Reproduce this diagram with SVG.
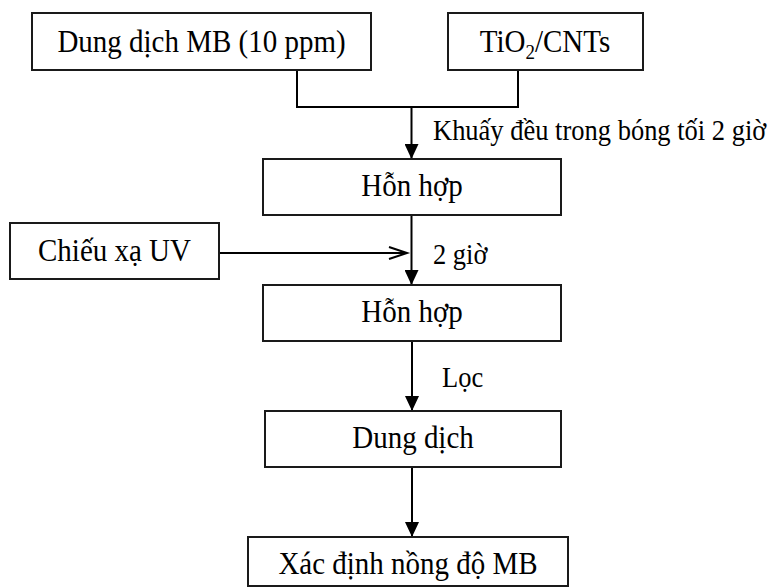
<svg xmlns="http://www.w3.org/2000/svg" width="768" height="587" viewBox="0 0 768 587">
<style>
  .box { fill: #ffffff; stroke: #1a1a1a; stroke-width: 2; }
  .t { font-family: "Liberation Serif", "Times New Roman", serif; font-size: 29px; fill: #000; text-anchor: middle; }
  .lbl { font-family: "Liberation Serif", "Times New Roman", serif; font-size: 26.5px; fill: #000; }
  .ln { fill: none; stroke: #000; stroke-width: 2; }
</style>
<defs>
  <marker id="arr" markerUnits="userSpaceOnUse" viewBox="0 0 15 14" markerWidth="15" markerHeight="14" refX="15" refY="7" orient="auto">
    <path d="M0,0 L15,7 L0,14 z" fill="#000"/>
  </marker>
  <marker id="chev" markerUnits="userSpaceOnUse" viewBox="-2 -2 22 16" markerWidth="22" markerHeight="16" refX="18" refY="6" orient="auto" overflow="visible">
    <path d="M0,0 L18,6 L0,12" fill="none" stroke="#000" stroke-width="2"/>
  </marker>
</defs>

<g id="connectors">
  <path class="ln" d="M297,70 V107 H518 V69"/>
  <line class="ln" x1="411.5" y1="107" x2="411.5" y2="159" marker-end="url(#arr)"/>
  <line class="ln" x1="411.5" y1="215" x2="411.5" y2="285" marker-end="url(#arr)"/>
  <line class="ln" x1="219" y1="253" x2="407" y2="253" marker-end="url(#chev)"/>
  <line class="ln" x1="412" y1="341" x2="412" y2="411" marker-end="url(#arr)"/>
  <line class="ln" x1="412" y1="467" x2="412" y2="537" marker-end="url(#arr)"/>
  <text class="lbl" transform="translate(433,140) scale(1,1.1)">Khuấy đều trong bóng tối 2 giờ</text>
  <text class="lbl" transform="translate(433,264) scale(1,1.1)">2 giờ</text>
  <text class="lbl" transform="translate(442,387) scale(1,1.1)">Lọc</text>
</g>

<g id="mb">
  <rect class="box" x="32" y="13" width="339" height="57"/>
  <text class="t" transform="translate(201.5,52) scale(1,1.1)">Dung dịch MB (10 ppm)</text>
</g>
<g id="tio2">
  <rect class="box" x="448" y="13" width="195" height="57"/>
  <text class="t" transform="translate(545,52) scale(1,1.1)" font-size="30">TiO<tspan dy="6" font-size="19">2</tspan><tspan dy="-6">/CNTs</tspan></text>
</g>
<g id="hh1">
  <rect class="box" x="263" y="159" width="298" height="56"/>
  <text class="t" transform="translate(412,196) scale(1,1.1)">Hỗn hợp</text>
</g>
<g id="uv">
  <rect class="box" x="10" y="223" width="209" height="56"/>
  <text class="t" transform="translate(114.5,261) scale(1,1.1)">Chiếu xạ UV</text>
</g>
<g id="hh2">
  <rect class="box" x="263" y="285" width="298" height="56"/>
  <text class="t" transform="translate(412,322) scale(1,1.1)">Hỗn hợp</text>
</g>
<g id="dd">
  <rect class="box" x="265" y="411" width="296" height="56"/>
  <text class="t" transform="translate(413,448) scale(1,1.1)">Dung dịch</text>
</g>
<g id="xd">
  <rect class="box" x="248" y="537" width="320" height="49"/>
  <text class="t" transform="translate(408,574) scale(1,1.1)">Xác định nồng độ MB</text>
</g>
</svg>
